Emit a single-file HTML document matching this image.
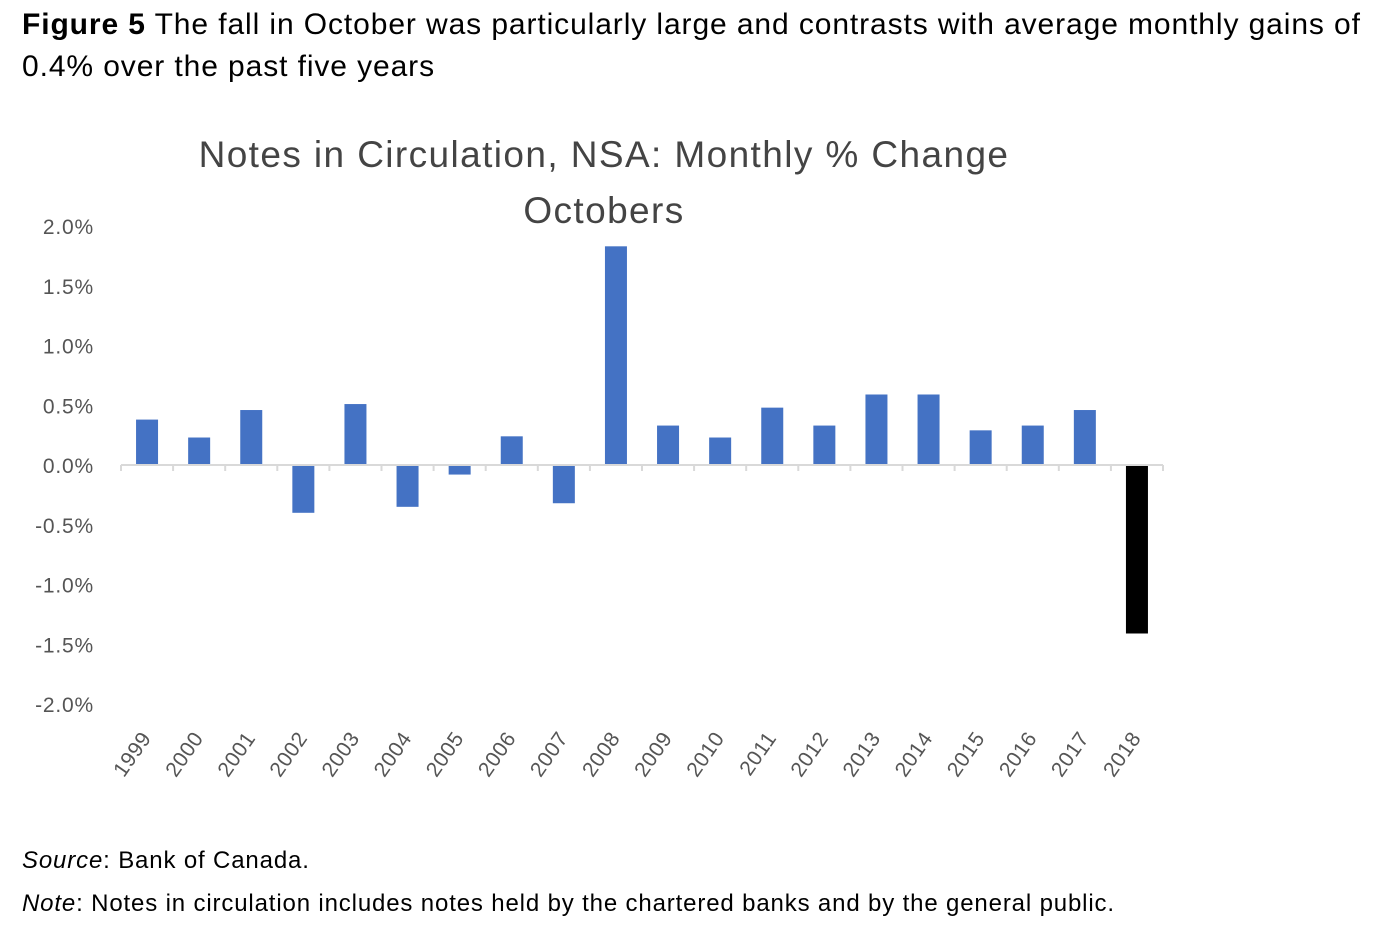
<!DOCTYPE html>
<html><head><meta charset="utf-8"><style>
body{margin:0;background:#fff;width:1376px;height:938px;overflow:hidden;font-family:"Liberation Sans",sans-serif;}
.hdr{position:absolute;left:22px;top:4px;font-size:30px;letter-spacing:0.9px;line-height:42px;color:#000;width:1354px;}
.foot{position:absolute;left:22px;font-size:24px;letter-spacing:0.85px;color:#000;}
</style></head><body>
<div class="hdr"><b>Figure 5</b> The fall in October was particularly large and contrasts with average monthly gains of 0.4% over the past five years</div>
<svg id="chart" width="1376" height="938" style="position:absolute;left:0;top:0">
<text x="604" y="167" text-anchor="middle" font-size="37" letter-spacing="1.4" fill="#444" font-family="Liberation Sans, sans-serif">Notes in Circulation, NSA: Monthly % Change</text>
<text x="604" y="223" text-anchor="middle" font-size="37" letter-spacing="1.4" fill="#444" font-family="Liberation Sans, sans-serif">Octobers</text>
</svg>
<div class="foot" style="top:847px"><i>Source</i>: Bank of Canada.</div>
<div class="foot" style="top:890px"><i>Note</i>: Notes in circulation includes notes held by the chartered banks and by the general public.</div>
<script>
const categories=["1999","2000","2001","2002","2003","2004","2005","2006","2007","2008","2009","2010","2011","2012","2013","2014","2015","2016","2017","2018"];
const values=[0.38,0.23,0.46,-0.40,0.51,-0.35,-0.08,0.24,-0.32,1.83,0.33,0.23,0.48,0.33,0.59,0.59,0.29,0.33,0.46,-1.41];
const ticks=[2.0,1.5,1.0,0.5,0.0,-0.5,-1.0,-1.5,-2.0];
const tickLabels=["2.0%","1.5%","1.0%","0.5%","0.0%","-0.5%","-1.0%","-1.5%","-2.0%"];
const svg=document.getElementById('chart');const NS='http://www.w3.org/2000/svg';
const x0=121,x1=1163,step=(x1-x0)/categories.length;
const y=v=>465-v*119.5;
const xc=i=>x0+step*(i+0.5);
function mk(t,a){const e=document.createElementNS(NS,t);for(const k in a)e.setAttribute(k,a[k]);svg.appendChild(e);return e;}
ticks.forEach((t,i)=>{const e=mk('text',{x:94,y:y(t)+8,'text-anchor':'end','font-size':21,'letter-spacing':0.8,fill:'#555','font-family':'Liberation Sans, sans-serif'});e.textContent=tickLabels[i];

});
values.forEach((v,i)=>{const last=i===values.length-1;const r=mk('rect',{x:xc(i)-11,y:Math.min(y(v),y(0)),width:22,height:Math.abs(y(v)-y(0)),fill:last?'#000':'#4472C4'});


const cx=xc(i)+5,cy=738;const t=mk('text',{x:cx,y:cy,'text-anchor':'end','font-size':21,'letter-spacing':0.6,fill:'#555','font-family':'Liberation Sans, sans-serif',transform:`rotate(-55 ${cx} ${cy})`});t.textContent=categories[i];

});
const ax=mk('line',{x1:x0,x2:x1,y1:y(0),y2:y(0),stroke:'#d9d9d9','stroke-width':2});


for(let i=0;i<=categories.length;i++){const l=mk('line',{x1:x0+step*i,x2:x0+step*i,y1:y(0),y2:y(0)+6,stroke:'#d9d9d9','stroke-width':2});

}
</script>
</body></html>
